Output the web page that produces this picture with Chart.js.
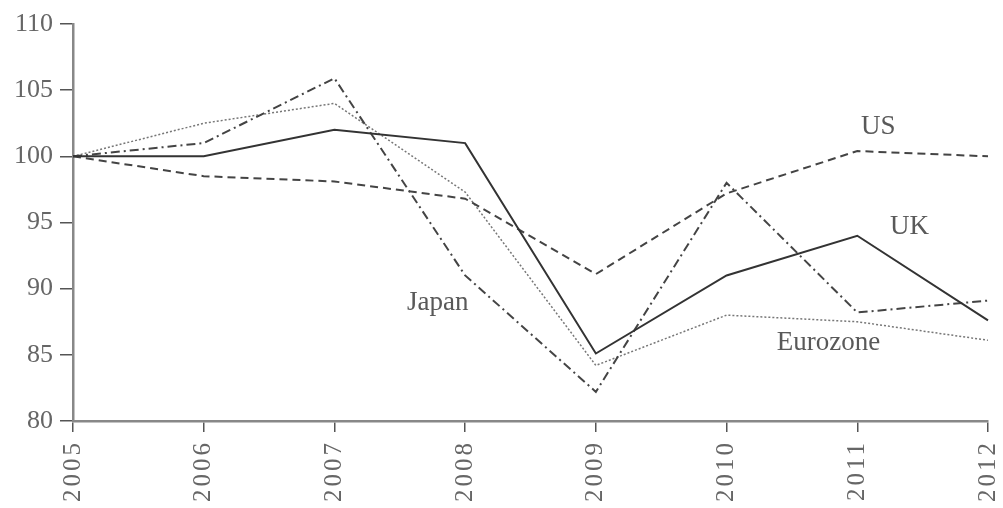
<!DOCTYPE html>
<html>
<head>
<meta charset="utf-8">
<script src="https://cdn.jsdelivr.net/npm/chart.js@4"></script>
<style>
  html, body { margin: 0; padding: 0; background: #fff; }
  #wrap { width: 1003px; height: 508px; }
</style>
</head>
<body>
<div id="wrap"><canvas id="grafico"></canvas></div>
<script>
var years = ['2005', '2006', '2007', '2008', '2009', '2010', '2011', '2012'];
var uk = [100, 100, 102, 101, 85.1, 91, 94, 87.6];
var us = [100, 98.5, 98.1, 96.8, 91.1, 97.2, 100.4, 100];
var japan = [100, 101, 105.9, 91, 82.2, 98, 88.2, 89.1];
var eurozone = [100, 102.5, 104, 97.3, 84.2, 88, 87.5, 86.1];
var yTicks = [80, 85, 90, 95, 100, 105, 110];

// series names placed next to their lines (x = category index, y = value)
var seriesLabels = [
    { text: 'US', x: 6.16, y: 102.2 },
    { text: 'UK', x: 6.4, y: 94.7 },
    { text: 'Japan', x: 2.79, y: 88.9 },
    { text: 'Eurozone', x: 5.78, y: 85.9 }
];

var serif = "'Liberation Serif', 'DejaVu Serif', serif";

var labelPlugin = {
    id: 'seriesLabels',
    afterDatasetsDraw: function (chart) {
        var c = chart.ctx;
        var xs = chart.scales.x, ys = chart.scales.y;
        c.save();
        c.font = '27px ' + serif;
        c.fillStyle = '#595959';
        c.textAlign = 'center';
        c.textBaseline = 'middle';
        seriesLabels.forEach(function (l) {
            c.fillText(l.text, xs.getPixelForValue(l.x), ys.getPixelForValue(l.y));
        });
        c.restore();
    }
};

var data = {
    labels: years,
    datasets: [{
        label: 'UK',
        data: uk,
        borderColor: '#333',
        borderWidth: 2
    },
    {
        label: 'US',
        data: us,
        borderColor: '#444',
        borderWidth: 2,
        borderDash: [8, 5]
    },
    {
        label: 'Japan',
        data: japan,
        borderColor: '#444',
        borderWidth: 2,
        borderDash: [9, 4, 2, 4]
    },
    {
        label: 'Eurozone',
        data: eurozone,
        borderColor: '#777',
        borderWidth: 1.5,
        borderDash: [2, 2]
    }
]
};

var options = {
    responsive: true,
    maintainAspectRatio: false,
    animation: false,
    elements: { point: { radius: 0 }, line: { tension: 0, fill: false } },
    layout: { padding: { top: 24, right: 0, left: 0, bottom: 0 } },
    plugins: { legend: { display: false }, tooltip: { enabled: false } },
    scales: {
        x: {
            offset: false,
            grid: { drawOnChartArea: false, drawTicks: true, tickLength: 11, color: '#555', lineWidth: 1.5 },
            border: { color: '#888', width: 2.5 },
            ticks: {
                color: '#666',
                font: { family: serif, size: 25 },
                minRotation: 90,
                maxRotation: 90,
                padding: 8
            },
            afterFit: function (s) {
                s.height = 87;
                s.paddingLeft = 0;
                s.paddingRight = 15;
            },
            // wider spacing between the digits of the year labels
            afterUpdate: function (s) {
                if (s._spaced) return;
                var orig = s.drawLabels;
                s.drawLabels = function (area) {
                    this.ctx.save();
                    this.ctx.letterSpacing = '3px';
                    orig.call(this, area);
                    this.ctx.restore();
                };
                s._spaced = true;
            }
        },
        y: {
            min: 80,
            max: 110,
            afterBuildTicks: function (s) {
                s.ticks = yTicks.map(function (v) { return { value: v }; });
            },
            grid: { drawOnChartArea: false, drawTicks: true, tickLength: 13, color: '#555', lineWidth: 1.5 },
            border: { color: '#888', width: 2.5 },
            ticks: {
                color: '#666',
                font: { family: serif, size: 26 },
                padding: 7
            },
            afterFit: function (s) { s.width = 73; }
        }
    }
};

var ctx = document.querySelector('#grafico').getContext('2d');
var lineChart = new Chart(ctx, {
    type: 'line',
    data: data,
    options: options,
    plugins: [labelPlugin]
});
</script>
</body>
</html>
